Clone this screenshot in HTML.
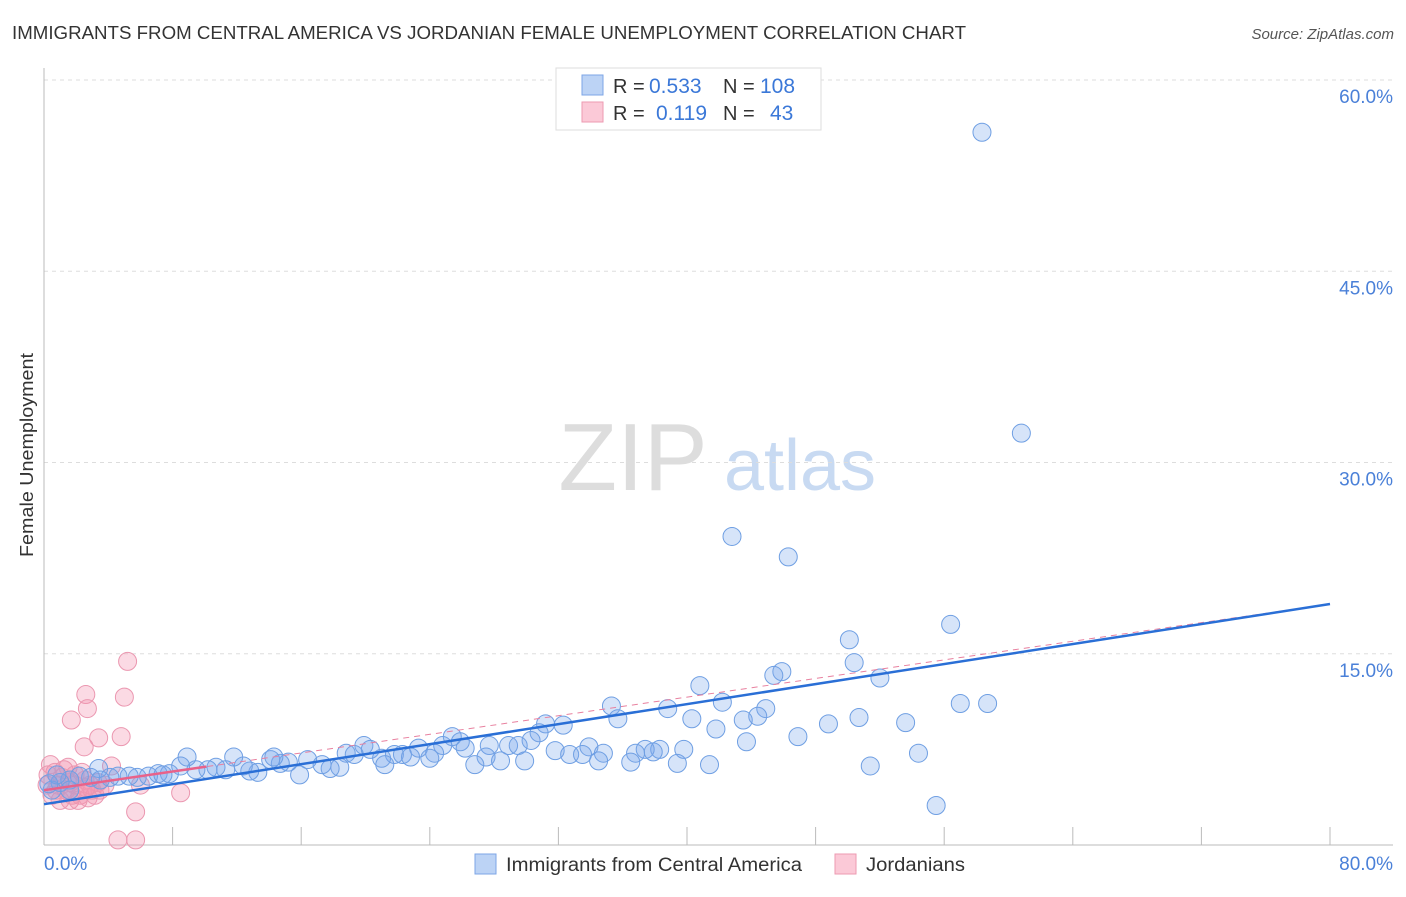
<!DOCTYPE html>
<html><head><meta charset="utf-8"><style>
body{margin:0;background:#fff;font-family:"Liberation Sans",sans-serif;}
svg text{font-family:"Liberation Sans",sans-serif;}
</style></head><body>
<svg id="chart" width="1406" height="892" xmlns="http://www.w3.org/2000/svg">
<text x="12" y="39" font-size="18" fill="#333" textLength="954" lengthAdjust="spacingAndGlyphs">IMMIGRANTS FROM CENTRAL AMERICA VS JORDANIAN FEMALE UNEMPLOYMENT CORRELATION CHART</text>
<text x="1394" y="39" font-size="15" fill="#555" text-anchor="end" font-style="italic">Source: ZipAtlas.com</text>
<g>
<text x="633" y="490" font-size="96" fill="#ddd" font-family="Liberation Serif" text-anchor="middle">ZIP</text>
<text x="800" y="490" font-size="72" fill="#c8daf2" text-anchor="middle">atlas</text>
</g>
<g id="grid"></g>
<g id="axes"></g>
<g id="marks"></g>
<text transform="translate(33,455) rotate(-90)" font-size="18" fill="#333" text-anchor="middle" textLength="204" lengthAdjust="spacingAndGlyphs">Female Unemployment</text>
<g>
<rect x="556" y="68" width="265" height="62" fill="#fff" stroke="#ddd"/>
<rect x="582" y="75" width="21" height="20" fill="#bcd3f5" stroke="#7da6e6"/>
<rect x="582" y="102" width="21" height="20" fill="#fbc9d7" stroke="#ec9ab2"/>
<text x="613" y="93" font-size="20" fill="#333">R =</text>
<text x="649" y="93" font-size="21" fill="#3b78d8">0.533</text>
<text x="723" y="93" font-size="20" fill="#333">N =</text>
<text x="760" y="93" font-size="21" fill="#3b78d8">108</text>
<text x="613" y="120" font-size="20" fill="#333">R =</text>
<text x="656" y="120" font-size="21" fill="#3b78d8">0.119</text>
<text x="723" y="120" font-size="20" fill="#333">N =</text>
<text x="770" y="120" font-size="21" fill="#3b78d8">43</text>
</g>
<g>
<rect x="475" y="854" width="21" height="20" fill="#bcd3f5" stroke="#7da6e6"/>
<text x="506" y="871" font-size="19" fill="#333" textLength="296" lengthAdjust="spacingAndGlyphs">Immigrants from Central America</text>
<rect x="835" y="854" width="21" height="20" fill="#fbc9d7" stroke="#ec9ab2"/>
<text x="866" y="871" font-size="19" fill="#333" textLength="99" lengthAdjust="spacingAndGlyphs">Jordanians</text>
</g>
</svg>
<script>
const yTicks=[15,30,45,60];
const yTickLabels=["15.0%","30.0%","45.0%","60.0%"];
const xTicks=[0,8,16,24,32,40,48,56,64,72,80];
const blueX=[58.35,60.8,42.8,46.3,56.4,50.1,50.4,52.0,45.9,45.4,40.8,35.3,42.2,57.0,58.7,38.8,44.9,44.4,43.5,40.3,35.7,50.7,53.6,48.8,41.8,31.2,32.3,46.9,43.7,30.8,30.3,25.4,25.9,24.8,26.2,19.9,20.3,23.3,27.7,28.9,29.5,33.9,39.8,38.3,37.4,37.9,36.8,31.8,32.7,33.5,34.8,54.4,18.8,19.3,21.8,22.3,22.8,24.3,21.0,24.0,27.5,21.2,26.8,28.4,29.9,34.5,36.5,39.4,41.4,51.4,55.5,18.4,17.8,17.3,16.4,15.9,15.2,14.7,14.1,14.3,13.3,12.8,12.4,11.8,11.3,10.7,10.2,9.45,8.9,8.5,7.8,7.1,6.5,5.8,5.3,4.6,4.1,3.4,2.9,2.2,1.6,1.0,0.5,0.8,1.6,3.5,7.4,0.3];
const blueY=[55.9,32.3,24.2,22.6,17.3,16.1,14.3,13.1,13.6,13.3,12.5,10.9,11.2,11.1,11.1,10.7,10.7,10.1,9.8,9.9,9.9,10.0,9.6,9.5,9.1,9.5,9.4,8.5,8.1,8.8,8.2,8.5,8.1,7.8,7.6,7.8,7.5,7.6,7.8,7.8,7.8,7.7,7.5,7.5,7.5,7.3,7.2,7.4,7.1,7.1,7.2,7.2,7.2,7.1,7.1,7.1,6.9,7.2,6.8,6.8,6.9,6.3,6.3,6.6,6.6,6.6,6.5,6.4,6.3,6.2,3.1,6.1,6.0,6.3,6.7,5.5,6.5,6.4,6.7,6.9,5.7,5.8,6.2,6.9,5.9,6.1,5.9,5.9,6.9,6.2,5.6,5.6,5.4,5.3,5.4,5.4,5.3,6.0,5.3,5.4,5.1,4.9,4.3,5.5,4.3,5.1,5.5,4.8];
const pinkX=[5.2,2.6,5.0,2.7,1.7,4.8,3.4,2.5,4.2,1.5,0.4,8.5,5.7,4.6,5.7,6.0,0.25,0.68,1.12,1.62,0.87,1.37,1.93,2.24,2.74,2.99,3.36,2.55,0.5,1.0,1.62,2.12,3.17,3.48,0.19,1.24,1.93,2.36,2.86,3.79,0.75,1.74,2.61];
const pinkY=[14.4,11.8,11.6,10.7,9.8,8.5,8.4,7.7,6.2,6.1,6.3,4.1,2.6,0.4,0.4,4.7,5.5,5.7,5.3,4.9,4.7,4.3,4.7,3.9,3.7,4.3,4.9,5.1,3.9,3.5,3.5,3.5,3.9,4.3,4.7,5.9,5.5,5.7,4.7,4.7,4.3,3.9,4.5];
const blueTrend=[3.2,18.9];
const pinkTrend=[4.3,18.9];
const pinkSolidEnd=10.1;

const X=v=>44+v*(1286/80);
const Y=v=>845-v*(765/60);
const NS="http://www.w3.org/2000/svg";
function mk(tag,attrs,parent){const e=document.createElementNS(NS,tag);for(const k in attrs)e.setAttribute(k,attrs[k]);parent.appendChild(e);return e;}
const grid=document.getElementById('grid'),axes=document.getElementById('axes'),marks=document.getElementById('marks');
yTicks.forEach((t,i)=>{
  const g=mk('line',{x1:44,x2:1393,y1:Y(t),y2:Y(t),stroke:'#ddd','stroke-dasharray':'4,4'},grid);
  
  
  const l=mk('text',{x:1393,y:Y(t)+23,'font-size':19,fill:'#4a80d8','text-anchor':'end'},axes);
  l.textContent=yTickLabels[i];
  
  
});
const ax=mk('line',{x1:44,x2:44,y1:68,y2:845,stroke:'#bbb'},axes);


const bx=mk('line',{x1:44,x2:1393,y1:845,y2:845,stroke:'#bbb'},axes);


xTicks.forEach(t=>{
  const tk=mk('line',{x1:X(t),x2:X(t),y1:827,y2:845,stroke:'#bbb'},axes);
  
  
});
const x0=mk('text',{x:44,y:870,'font-size':19,fill:'#4a80d8'},axes);x0.textContent='0.0%';


const x1=mk('text',{x:1393,y:870,'font-size':19,fill:'#4a80d8','text-anchor':'end'},axes);x1.textContent='80.0%';


pinkX.forEach((v,i)=>{
  const c=mk('circle',{cx:X(v),cy:Y(pinkY[i]),r:9,fill:'rgba(244,150,178,0.35)',stroke:'#eb97b0','stroke-width':1},marks);
  
  
});
blueX.forEach((v,i)=>{
  const c=mk('circle',{cx:X(v),cy:Y(blueY[i]),r:9,fill:'rgba(120,165,235,0.3)',stroke:'#6f9fe3','stroke-width':1},marks);
  
  
});
const pd=mk('line',{x1:X(0),y1:Y(pinkTrend[0]),x2:X(80),y2:Y(pinkTrend[1]),stroke:'#e8809f','stroke-width':1,'stroke-dasharray':'6,5'},marks);


const ps=mk('line',{x1:X(0),y1:Y(pinkTrend[0]),x2:X(pinkSolidEnd),y2:Y(pinkTrend[0]+(pinkTrend[1]-pinkTrend[0])*pinkSolidEnd/80),stroke:'#e8628a','stroke-width':2.5},marks);


const bl=mk('line',{x1:X(0),y1:Y(blueTrend[0]),x2:X(80),y2:Y(blueTrend[1]),stroke:'#2a6fd6','stroke-width':2.5},marks);


</script>
</body></html>
